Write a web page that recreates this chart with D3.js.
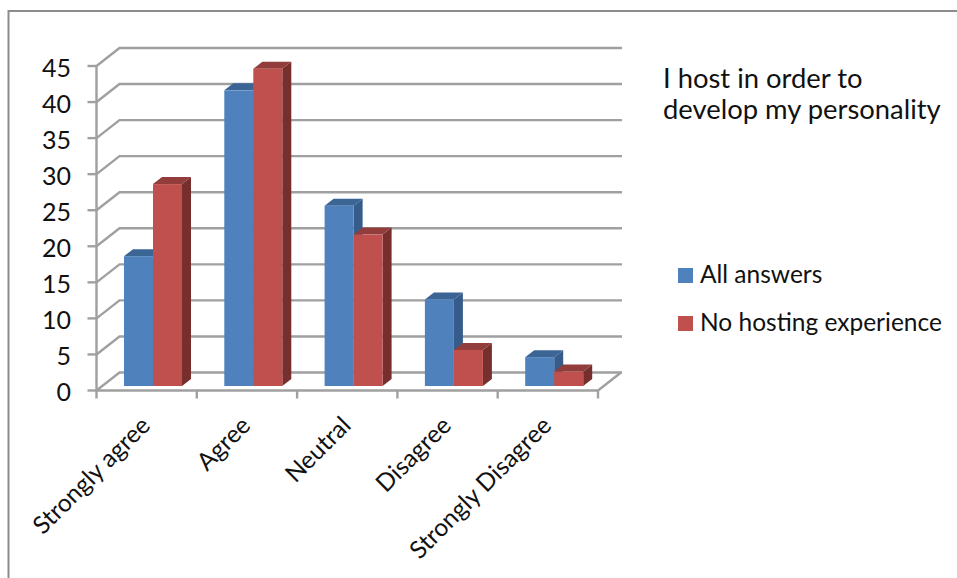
<!DOCTYPE html>
<html>
<head>
<meta charset="utf-8">
<script src="https://cdn.jsdelivr.net/npm/d3@7/dist/d3.min.js"></script>
<style>
html, body { margin: 0; padding: 0; background: #fff; }
svg { display: block; }
text { font-family: Lato, "Open Sans", sans-serif; fill: #111; }
</style>
</head>
<body>
<svg id="chart" width="957" height="578"></svg>
<script>
const categories = ["Strongly agree", "Agree", "Neutral", "Disagree", "Strongly Disagree"];
const seriesNames = ["All answers", "No hosting experience"];
const allAnswers = [18, 41, 25, 12, 4];
const noHosting = [28, 44, 21, 5, 2];
const tickValues = [0, 5, 10, 15, 20, 25, 30, 35, 40, 45];
const titleLines = ["I host in order to", "develop my personality"];
const faces = [
  { front: "#4F81BD", top: "#3B6594", side: "#355C8A" },
  { front: "#C0504D", top: "#923D3B", side: "#772F2D" }
];

const svg = d3.select("#chart");
const gridColor = "#a0a0a0";

const y = d3.scaleLinear().domain([0, 45]).range([390.5, 66]);
const x = d3.scaleBand().domain(categories).range([96.5, 598]);
const wallDx = 23, wallDy = -18;
const barInsetX = 27.5, barBaseLift = 4.5, barWidth = 29, barDx = 9, barDy = -7;

// Outer frame: open at the bottom and right edges of the page
svg.append("path")
  .attr("d", "M8.5,578V11H957")
  .attr("fill", "none").attr("stroke", "#8c8c8c").attr("stroke-width", 2);

// Back wall gridlines and their slanted returns along the side wall
const grid = svg.append("g").attr("fill", "none").attr("stroke", gridColor).attr("stroke-width", 2.4);
tickValues.forEach(v => {
  const y0 = y(v);
  grid.append("path").attr("d", d3.line()([
    [x.range()[0], y0],
    [x.range()[0] + wallDx, y0 + wallDy],
    [x.range()[1] + wallDx + 1, y0 + wallDy]
  ]));
  grid.append("line")
    .attr("x1", x.range()[0] - 9).attr("x2", x.range()[0])
    .attr("y1", y0).attr("y2", y0);
});

// Floor front edge, right floor edge, and the value axis
grid.append("line").attr("x1", x.range()[0]).attr("x2", x.range()[0])
  .attr("y1", y(45)).attr("y2", y(0));
grid.append("path").attr("d", d3.line()([
  [x.range()[0], y(0)], [x.range()[1], y(0)], [x.range()[1] + wallDx, y(0) + wallDy]
]));
const catTicks = categories.map(c => x(c)).concat([x.range()[1]]);
grid.selectAll("line.cat").data(catTicks).join("line").attr("class", "cat")
  .attr("x1", d => d).attr("x2", d => d)
  .attr("y1", y(0)).attr("y2", y(0) + 8);

// Value labels
svg.append("g").selectAll("text").data(tickValues).join("text")
  .attr("x", 71).attr("y", d => y(d)).attr("dy", "0.42em")
  .attr("text-anchor", "end").attr("font-size", 25).text(d => d);

// Bars as three-faced prisms
const bars = svg.append("g");
[allAnswers, noHosting].forEach((values, s) => {
  values.forEach((v, i) => {
    const x0 = x(categories[i]) + barInsetX + s * barWidth;
    const x1 = x0 + barWidth;
    const yb = y(0) - barBaseLift;
    const yt = y(v) - barBaseLift;
    const g = bars.append("g");
    g.append("path").attr("fill", faces[s].side).attr("d", d3.line()([
      [x1, yt], [x1 + barDx, yt + barDy], [x1 + barDx, yb + barDy], [x1, yb]
    ]) + "Z");
    g.append("path").attr("fill", faces[s].top).attr("d", d3.line()([
      [x0, yt], [x0 + barDx, yt + barDy], [x1 + barDx, yt + barDy], [x1, yt]
    ]) + "Z");
    g.append("rect").attr("fill", faces[s].front)
      .attr("x", x0).attr("y", yt).attr("width", barWidth).attr("height", yb - yt);
  });
});

// Rotated category labels, end-anchored below each tick gap
svg.append("g").selectAll("text").data(categories).join("text")
  .attr("font-size", 24.5).attr("text-anchor", "end")
  .attr("transform", d => `translate(${x(d) + x.bandwidth() / 2 + 5},${427}) rotate(-45)`)
  .text(d => d);

// Title
svg.append("g").selectAll("text").data(titleLines).join("text")
  .attr("x", 663).attr("y", (d, i) => 88 + i * 31)
  .attr("font-size", 27.4).text(d => d);

// Legend
const legend = svg.append("g");
seriesNames.forEach((name, s) => {
  const ly = 268 + s * 48;
  legend.append("rect").attr("x", 678).attr("y", ly)
    .attr("width", 15).attr("height", 15).attr("fill", faces[s].front);
  legend.append("text").attr("x", 700).attr("y", ly + 15)
    .attr("font-size", 24.5).text(name);
});
</script>
</body>
</html>
